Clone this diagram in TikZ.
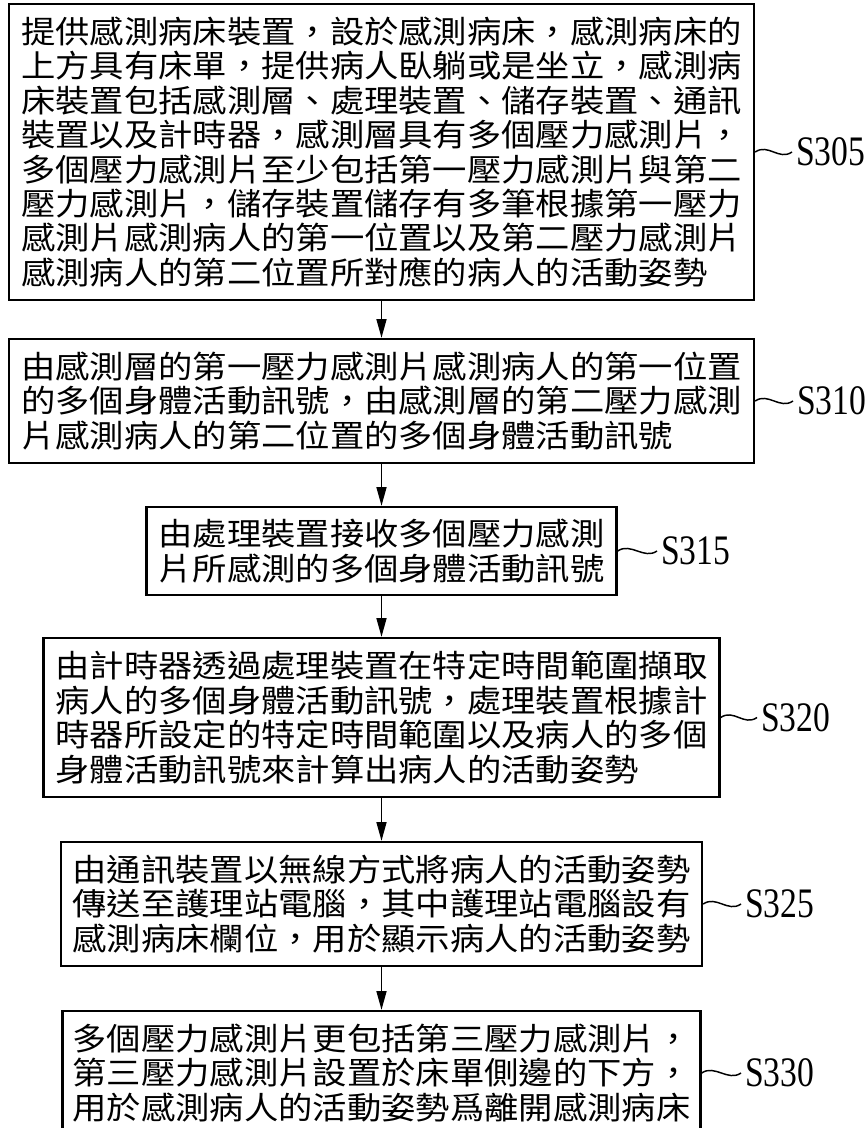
\documentclass[tikz,border=0pt]{standalone}
\usepackage{fontspec}
\newfontfamily\cjk[FakeStretch=1.1]{Noto Sans CJK TC}
\newfontfamily\labfont[FakeStretch=0.8]{Liberation Serif}
\usetikzlibrary{arrows.meta}
\tikzset{
  stepbox/.style={draw, line width=1.8pt, inner sep=0pt, align=left,
    font=\cjk\fontsize{23.4pt}{25.8pt}\selectfont},
  steplabel/.style={anchor=west, inner sep=0pt, inner xsep=3pt,
    font=\labfont\fontsize{31.5pt}{32pt}\selectfont},
  flow/.style={line width=1.1pt, -{Triangle[length=14pt,width=7.5pt]}},
  leader/.style={line width=1.1pt}
}
\begin{document}
\begin{tikzpicture}[x=0.75pt,y=-0.75pt]
\useasboundingbox (0,0) rectangle (866,1128);

\node[stepbox, minimum width=745*0.75pt, minimum height=296*0.75pt] (b1) at (381.5,152)
{提供感測病床裝置，設於感測病床，感測病床的\\
上方具有床單，提供病人臥躺或是坐立，感測病\\
床裝置包括感測層、處理裝置、儲存裝置、通訊\\
裝置以及計時器，感測層具有多個壓力感測片，\\
多個壓力感測片至少包括第一壓力感測片與第二\\
壓力感測片，儲存裝置儲存有多筆根據第一壓力\\
感測片感測病人的第一位置以及第二壓力感測片\\
感測病人的第二位置所對應的病人的活動姿勢};

\node[stepbox, minimum width=745*0.75pt, minimum height=124*0.75pt] (b2) at (381.5,401)
{由感測層的第一壓力感測片感測病人的第一位置\\
的多個身體活動訊號，由感測層的第二壓力感測\\
片感測病人的第二位置的多個身體活動訊號};

\node[stepbox, minimum width=470*0.75pt, minimum height=88*0.75pt] (b3) at (381.5,551)
{由處理裝置接收多個壓力感測\\
片所感測的多個身體活動訊號};

\node[stepbox, minimum width=676*0.75pt, minimum height=159*0.75pt] (b4) at (381.5,717.5)
{由計時器透過處理裝置在特定時間範圍擷取\\
病人的多個身體活動訊號，處理裝置根據計\\
時器所設定的特定時間範圍以及病人的多個\\
身體活動訊號來計算出病人的活動姿勢};

\node[stepbox, minimum width=641*0.75pt, minimum height=124*0.75pt] (b5) at (381.5,904)
{由通訊裝置以無線方式將病人的活動姿勢\\
傳送至護理站電腦，其中護理站電腦設有\\
感測病床欄位，用於顯示病人的活動姿勢};

\node[stepbox, minimum width=638*0.75pt, minimum height=124*0.75pt] (b6) at (381.5,1073)
{多個壓力感測片更包括第三壓力感測片，\\
第三壓力感測片設置於床單側邊的下方，\\
用於感測病人的活動姿勢爲離開感測病床};

\node[steplabel] (l1) at (792,152) {S305};
\node[steplabel] (l2) at (793,401) {S310};
\node[steplabel] (l3) at (657,551) {S315};
\node[steplabel] (l4) at (757,717.5) {S320};
\node[steplabel] (l5) at (741,904) {S325};
\node[steplabel] (l6) at (741,1073) {S330};

\draw[flow] (b1.south) -- (b2.north);
\draw[flow] (b2.south) -- (b3.north);
\draw[flow] (b3.south) -- (b4.north);
\draw[flow] (b4.south) -- (b5.north);
\draw[flow] (b5.south) -- (b6.north);

\foreach \b/\l in {b1/l1,b2/l2,b3/l3,b4/l4,b5/l5,b6/l6}
  \draw[leader] (\b.east) .. controls +(13,-9) and +(-13,9) .. (\l.west);
\end{tikzpicture}
\end{document}
